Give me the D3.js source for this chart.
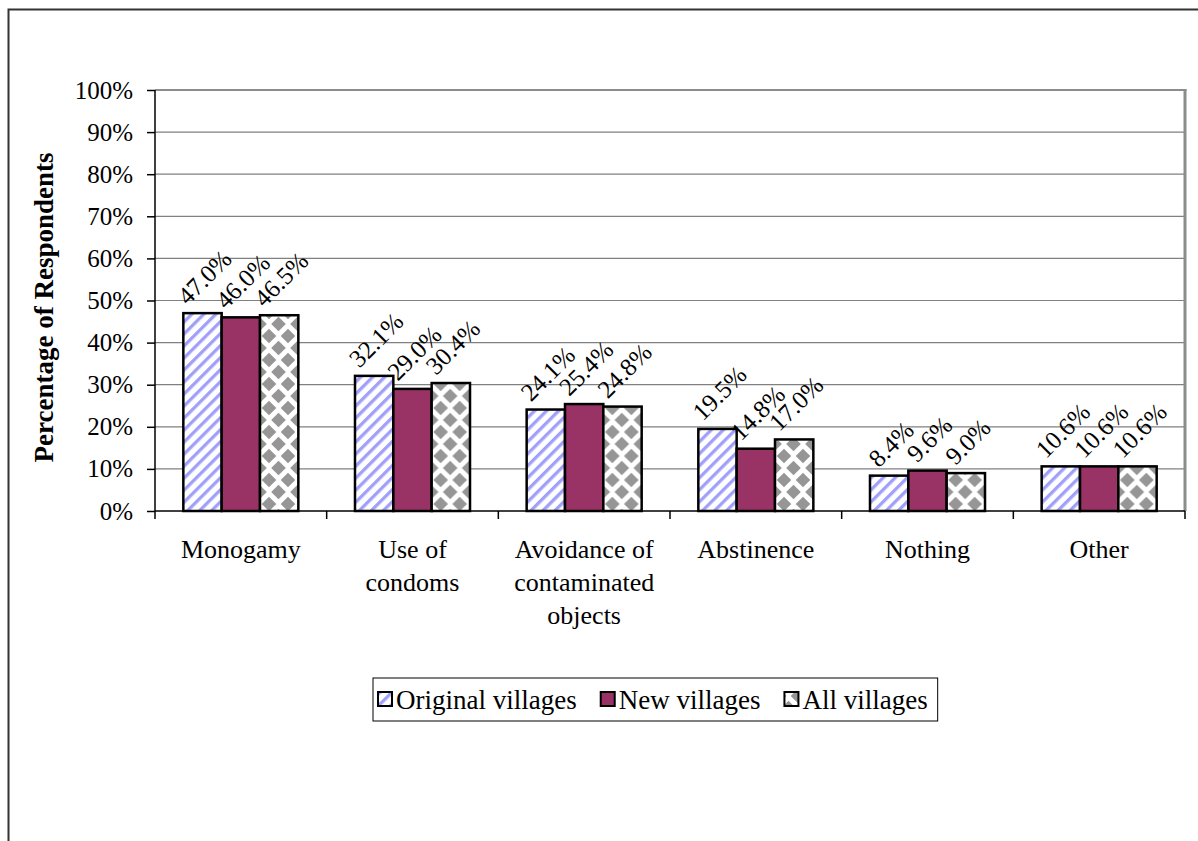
<!DOCTYPE html>
<html>
<head>
<meta charset="utf-8">
<script src="https://cdn.jsdelivr.net/npm/d3@7"></script>
<style>
  html, body { margin: 0; padding: 0; background: #fff; }
  svg { display: block; }
</style>
</head>
<body>
<svg id="chart" width="1198" height="841" font-family="Liberation Serif"></svg>
<script>
// Prevention methods named by respondents, share per village group
const categories = [["Monogamy"], ["Use of", "condoms"], ["Avoidance of", "contaminated", "objects"], ["Abstinence"], ["Nothing"], ["Other"]];
const seriesNames = ["Original villages", "New villages", "All villages"];
const originalVillages = [47.0, 32.1, 24.1, 19.5, 8.4, 10.6];
const newVillages = [46.0, 29.0, 25.4, 14.8, 9.6, 10.6];
const allVillages = [46.5, 30.4, 24.8, 17.0, 9.0, 10.6];
const yTicks = [0, 10, 20, 30, 40, 50, 60, 70, 80, 90, 100];

const seriesValues = [originalVillages, newVillages, allVillages];
const catKeys = categories.map(c => c.join(" "));
const FONT = "Liberation Serif";

const svg = d3.select("#chart");
const W = 1198, H = 841;
const plot = { left: 155, top: 90, right: 1185, bottom: 511 };

// fill patterns
const defs = svg.append("defs");
const stripes = defs.append("pattern")
  .attr("id", "pat-stripes").attr("patternUnits", "userSpaceOnUse")
  .attr("width", 8.5).attr("height", 8.5)
  .attr("patternTransform", "rotate(45)");
stripes.append("rect").attr("width", 8.5).attr("height", 8.5).attr("fill", "#fff");
stripes.append("rect").attr("x", 0).attr("width", 3.3).attr("height", 8.5).attr("fill", "#a0a0fa");

const dW = 19, dH = 24, dR = 7.3;
const diamonds = defs.append("pattern")
  .attr("id", "pat-diamonds").attr("patternUnits", "userSpaceOnUse")
  .attr("width", dW).attr("height", dH);
diamonds.append("rect").attr("width", dW).attr("height", dH).attr("fill", "#fff");
[[0, 0], [dW, 0], [0, dH], [dW, dH], [dW / 2, dH / 2]].forEach(([cx, cy]) => {
  diamonds.append("path")
    .attr("d", `M${cx},${cy - dR} L${cx + dR},${cy} L${cx},${cy + dR} L${cx - dR},${cy} Z`)
    .attr("fill", "#969696");
});

const fills = ["url(#pat-stripes)", "#993366", "url(#pat-diamonds)"];

// outer frame
svg.append("rect").attr("x", 8.5).attr("y", 9.5).attr("width", W + 20).attr("height", H + 20)
  .attr("fill", "none").attr("stroke", "#333").attr("stroke-width", 2);

const x = d3.scaleBand().domain(catKeys).range([plot.left, plot.right]).padding(0);
const groupPad = x.bandwidth() * 0.165;
const xs = d3.scaleBand().domain(d3.range(seriesNames.length))
  .range([groupPad, x.bandwidth() - groupPad]).padding(0);
const y = d3.scaleLinear().domain([0, 100]).range([plot.bottom, plot.top]);

// gridlines
svg.append("g").selectAll("line").data(yTicks.filter(t => t > 0)).join("line")
  .attr("x1", plot.left).attr("x2", plot.right)
  .attr("y1", d => y(d)).attr("y2", d => y(d))
  .attr("stroke", "#808080").attr("stroke-width", 1.2);

// plot area border (top and right)
svg.append("line").attr("x1", plot.right).attr("x2", plot.right)
  .attr("y1", plot.top - 1).attr("y2", plot.bottom)
  .attr("stroke", "#8c8c8c").attr("stroke-width", 3);
svg.append("line").attr("x1", plot.left).attr("x2", plot.right + 1.5)
  .attr("y1", plot.top).attr("y2", plot.top)
  .attr("stroke", "#8c8c8c").attr("stroke-width", 2);

// bars
const groups = svg.append("g").selectAll("g").data(catKeys).join("g")
  .attr("transform", d => `translate(${x(d)},0)`);
groups.selectAll("rect").data((d, i) => seriesValues.map((s, j) => ({ s: j, v: s[i] }))).join("rect")
  .attr("x", d => xs(d.s)).attr("width", xs.bandwidth())
  .attr("y", d => y(d.v)).attr("height", d => y(0) - y(d.v))
  .attr("fill", d => fills[d.s]).attr("stroke", "#000").attr("stroke-width", 2.5);

// value labels, rotated
const labelSize = 25;
groups.selectAll("text.val").data((d, i) => seriesValues.map((s, j) => ({ s: j, v: s[i] }))).join("text")
  .attr("class", "val")
  .attr("font-family", FONT)
  .attr("font-size", labelSize)
  .attr("text-anchor", "middle")
  .attr("dominant-baseline", "central")
  .text(d => d.v.toFixed(1) + "%")
  .each(function (d) {
    const len = this.getComputedTextLength();
    const half = (len + labelSize * 0.8) * Math.SQRT1_2 / 2;
    const cx = xs(d.s) + xs.bandwidth() / 2 + 2;
    const cy = y(d.v) - 6 - half;
    d3.select(this).attr("transform", `translate(${cx},${cy}) rotate(-45)`);
  });

// y axis
const yAxis = d3.axisLeft(y).tickValues(yTicks).tickFormat(d => d + "%").tickSize(8).tickPadding(14);
const yg = svg.append("g").attr("transform", `translate(${plot.left},0)`).call(yAxis)
  .attr("font-family", FONT).attr("font-size", 25);
yg.select(".domain").attr("stroke", "#000").attr("stroke-width", 1.5).attr("d", `M0,${plot.top}V${plot.bottom}`);
yg.selectAll(".tick line").attr("stroke", "#000").attr("stroke-width", 1.5);
yg.selectAll(".tick text").attr("font-family", FONT).attr("font-size", 25).attr("fill", "#000");

// x axis with ticks at category boundaries
const xg = svg.append("g").attr("transform", `translate(0,${plot.bottom})`);
xg.append("line").attr("x1", plot.left).attr("x2", plot.right).attr("stroke", "#000").attr("stroke-width", 1.5);
xg.selectAll("line.tk").data(catKeys.map(k => x(k)).concat([plot.right])).join("line")
  .attr("class", "tk").attr("x1", d => d).attr("x2", d => d).attr("y1", 0).attr("y2", 8)
  .attr("stroke", "#000").attr("stroke-width", 1.5);
const catText = xg.selectAll("text").data(categories).join("text")
  .attr("x", (d, i) => x(catKeys[i]) + x.bandwidth() / 2)
  .attr("y", 47)
  .attr("text-anchor", "middle").attr("font-family", FONT).attr("font-size", 26).attr("fill", "#000");
catText.selectAll("tspan").data(d => d).join("tspan")
  .attr("x", function () { return this.parentNode.getAttribute("x"); })
  .attr("dy", (d, i) => i === 0 ? 0 : 33)
  .text(d => d);

// y axis title
svg.append("text")
  .attr("transform", `translate(53,${(plot.top + plot.bottom) / 2 + 7}) rotate(-90)`)
  .attr("text-anchor", "middle").attr("font-family", FONT).attr("font-size", 27).attr("font-weight", "bold")
  .text("Percentage of Respondents");

// legend
const legend = svg.append("g");
const legX = 373, legY = 678, legH = 43, legGap = 24;
let cursor = legX + 5;
seriesNames.forEach((name, i) => {
  const g = legend.append("g");
  g.append("rect").attr("x", cursor).attr("y", legY + 14).attr("width", 14).attr("height", 14)
    .attr("fill", fills[i]).attr("stroke", "#000").attr("stroke-width", 2);
  const t = g.append("text").attr("x", cursor + 18).attr("y", legY + 31)
    .attr("font-family", FONT).attr("font-size", 27).text(name);
  cursor += 18 + t.node().getComputedTextLength() + legGap;
});
legend.insert("rect", ":first-child").attr("x", legX).attr("y", legY)
  .attr("width", cursor - legGap + 10 - legX).attr("height", legH)
  .attr("fill", "#fff").attr("stroke", "#000").attr("stroke-width", 1);
</script>
</body>
</html>
